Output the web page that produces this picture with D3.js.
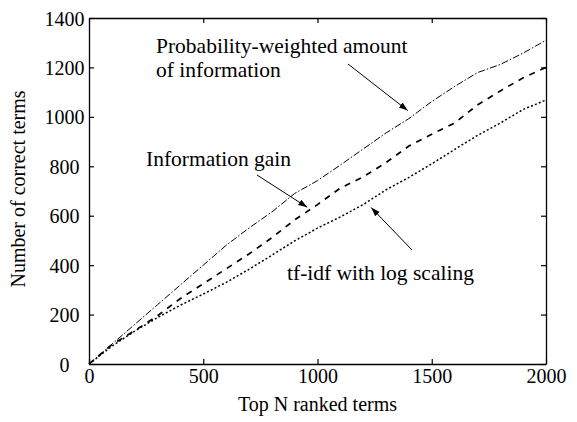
<!DOCTYPE html>
<html>
<head>
<meta charset="utf-8">
<script src="https://cdn.jsdelivr.net/npm/d3@7"></script>
<style>
html,body{margin:0;padding:0;background:#fff;}
svg{display:block;}
text{font-family:"Liberation Serif","Times New Roman",serif;fill:#000;}
</style>
</head>
<body>
<svg id="chart" width="577" height="422"></svg>
<script>
// ---- data ----
const topN = [0,100,200,300,400,500,600,700,800,900,1000,1100,1200,1300,1400,1500,1600,1700,1800,1900,2000];
const probWeighted = [0,80,160,240,320,400,480,550,615,690,742,805,870,935,993,1062,1123,1179,1212,1258,1310];
const infoGain     = [0,78,135,195,265,325,385,445,511,583,645,712,757,815,882,930,975,1048,1105,1158,1200];
const tfidfLog     = [0,72,133,188,238,283,330,383,440,498,550,595,645,705,755,810,868,925,975,1030,1068];
const xTicks = [0,500,1000,1500,2000];
const yTicks = [0,200,400,600,800,1000,1200,1400];
const xTitle = "Top N ranked terms";
const yTitle = "Number of correct terms";
const annotations = [
  {lines:["Probability-weighted amount","of information"]},
  {lines:["Information gain"]},
  {lines:["tf-idf with log scaling"]}
];

// ---- layout ----
const svg = d3.select("#chart");
const L = 89, R = 546, T = 18, B = 364;
const x = d3.scaleLinear().domain([0,2000]).range([L,R]);
const y = d3.scaleLinear().domain([0,1400]).range([B,T]);

const defs = svg.append("defs");
defs.append("marker").attr("id","ah").attr("viewBox","0 0 10 10")
  .attr("refX",10).attr("refY",5).attr("markerWidth",9).attr("markerHeight",9)
  .attr("markerUnits","userSpaceOnUse").attr("orient","auto")
  .append("path").attr("d","M0,1.5 L10,5 L0,8.5 Z").attr("fill","#000");

// series
const line = d3.line().x((d,i)=>x(topN[i])).y(d=>y(d));
const series = [
  {vals:probWeighted, w:1.0, dash:"7,2,1.5,2"},
  {vals:infoGain, w:1.7, dash:"6,6"},
  {vals:tfidfLog, w:1.5, dash:"2,2.2"}
];
series.forEach(s=>{
  svg.append("path").datum(s.vals).attr("d",line)
    .attr("fill","none").attr("stroke","#000")
    .attr("stroke-width",s.w).attr("stroke-dasharray",s.dash);
});

// axes (box with inward ticks)
const fs = 20;
const gB = svg.append("g").attr("transform",`translate(0,${B})`)
  .call(d3.axisBottom(x).tickValues(xTicks).tickSizeInner(-5).tickSizeOuter(0).tickPadding(13).tickFormat(d3.format("d")));
const gT = svg.append("g").attr("transform",`translate(0,${T})`)
  .call(d3.axisTop(x).tickValues(xTicks).tickSizeInner(-5).tickSizeOuter(0).tickFormat(""));
const gL = svg.append("g").attr("transform",`translate(${L},0)`)
  .call(d3.axisLeft(y).tickValues(yTicks).tickSizeInner(-5).tickSizeOuter(0).tickFormat(d3.format("d")));
const gR = svg.append("g").attr("transform",`translate(${R},0)`)
  .call(d3.axisRight(y).tickValues(yTicks).tickSizeInner(-5).tickSizeOuter(0).tickFormat(""));
[gB,gT,gL,gR].forEach(g=>{
  g.select(".domain").attr("stroke","#000").attr("stroke-width",1.3);
  g.selectAll(".tick line").attr("stroke","#000").attr("stroke-width",1.2);
  g.selectAll("text").attr("font-family","Liberation Serif, serif").attr("font-size",fs).attr("fill","#000");
});
gB.selectAll(".tick text").attr("dy",null).attr("y",383-B).attr("dominant-baseline","auto");
gL.selectAll(".tick text").attr("text-anchor","middle").attr("x",64.5-L).attr("dy","0.35em");

// titles
svg.append("text").attr("x",(L+R)/2).attr("y",411).attr("text-anchor","middle")
  .attr("font-size",fs).text(xTitle);
svg.append("text").attr("transform",`translate(25,189) rotate(-90)`).attr("text-anchor","middle")
  .attr("font-size",fs).text(yTitle);

// annotations
const annFs = 21.5;
const annPos = [
  {x:156, y:[53,77]},
  {x:146, y:[166]},
  {x:287, y:[280]}
];
annotations.forEach((a,i)=>{
  a.lines.forEach((t,j)=>{
    svg.append("text").attr("x",annPos[i].x).attr("y",annPos[i].y[j]).attr("font-size",annFs).text(t);
  });
});
// arrows pointing to curves
const arrows = [
  {x1:348,y1:64, n:1395, v:probWeighted[14], dy:-8},
  {x1:257,y1:175, n:955, v:infoGain[9]+35, dy:-4},
  {x1:412,y1:250, n:1235, v:tfidfLog[12], dy:3}
];
arrows.forEach(a=>{
  svg.append("line").attr("x1",a.x1).attr("y1",a.y1)
    .attr("x2",x(a.n)).attr("y2",y(a.v)+a.dy)
    .attr("stroke","#000").attr("stroke-width",1).attr("marker-end","url(#ah)");
});
</script>
</body>
</html>
